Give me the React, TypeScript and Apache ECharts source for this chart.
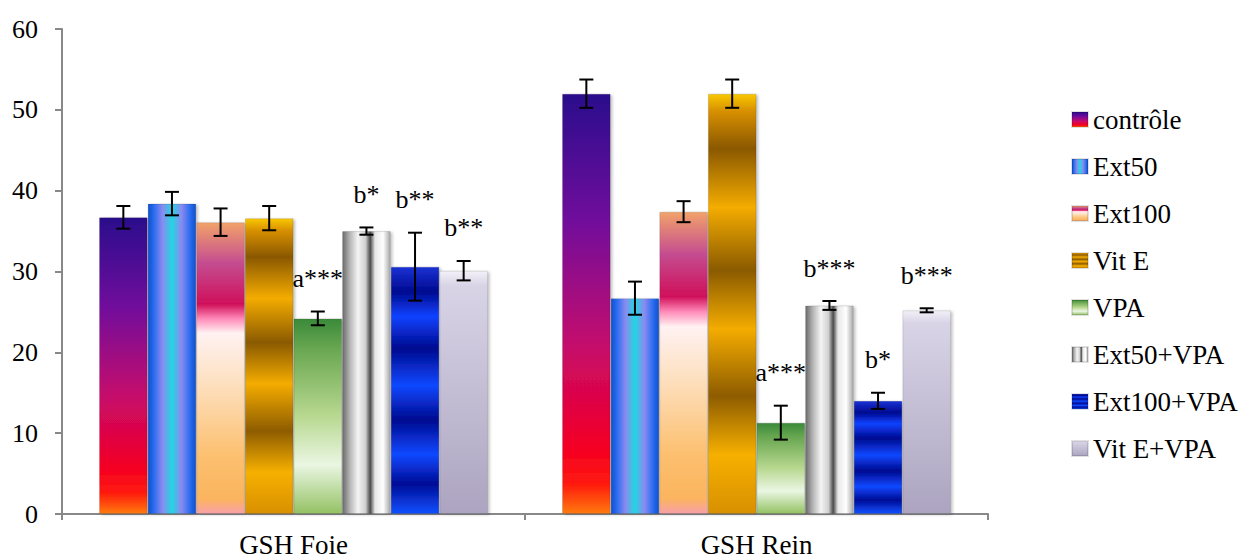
import React, { useEffect, useRef } from "react";
import * as echarts from "echarts";

const categories = ["GSH Foie", "GSH Rein"];
const seriesNames = ["contrôle", "Ext50", "Ext100", "Vit E", "VPA", "Ext50+VPA", "Ext100+VPA", "Vit E+VPA"];
const foieMeans = [36.7, 38.4, 36.1, 36.6, 24.2, 35.0, 30.6, 30.1];
const foieErrors = [1.4, 1.45, 1.7, 1.5, 0.85, 0.45, 4.2, 1.2];
const reinMeans = [52.0, 26.7, 37.4, 52.0, 11.3, 25.8, 14.0, 25.2];
const reinErrors = [1.75, 2.05, 1.3, 1.75, 2.1, 0.55, 1.0, 0.25];
const foieLabels = ["", "", "", "", "a***", "b*", "b**", "b**"];
const reinLabels = ["", "", "", "", "a***", "b***", "b*", "b***"];
const yMin = 0;
const yMax = 60;
const yInterval = 10;

const FONT = "Liberation Serif";
const GAP = 0.16;

function grad(vertical: boolean, stops: [number, string][]) {
  return {
    type: "linear",
    x: 0,
    y: 0,
    x2: vertical ? 0 : 1,
    y2: vertical ? 1 : 0,
    colorStops: stops.map(([offset, color]) => ({ offset, color })),
  };
}

const fills = [
  grad(true, [[0, "#2a0a8c"], [0.3, "#700a9c"], [0.6, "#c50a6c"], [0.85, "#f50022"], [0.93, "#ff1a10"], [1, "#ff7a10"]]),
  grad(false, [[0, "#0f50cc"], [0.12, "#2a6cf0"], [0.3, "#8a8af0"], [0.5, "#22d6e2"], [0.7, "#8a8af0"], [0.88, "#2a6cf0"], [1, "#0f50cc"]]),
  grad(true, [[0, "#f2a26a"], [0.14, "#c44c90"], [0.28, "#d0105a"], [0.33, "#ff8ab8"], [0.38, "#fff2f2"], [0.55, "#fde0c0"], [0.8, "#fcc070"], [0.95, "#fbb45e"], [1, "#f8a0a8"]]),
  grad(true, [[0, "#f8c800"], [0.04, "#d89000"], [0.13, "#8a5800"], [0.27, "#f4ac00"], [0.42, "#8a5a00"], [0.56, "#f4ac00"], [0.72, "#8e5c00"], [0.86, "#f6b000"], [1, "#d89000"]]),
  grad(true, [[0, "#3a8a3a"], [0.15, "#68a650"], [0.5, "#b8d890"], [0.75, "#eaf6e2"], [1, "#94c264"]]),
  grad(false, [[0, "#6a6a6a"], [0.15, "#b4b4b4"], [0.32, "#f4f4f4"], [0.48, "#d0d0d0"], [0.58, "#4a4a4a"], [0.68, "#e8e8e8"], [0.85, "#ffffff"], [1, "#a8a8a8"]]),
  grad(true, [[0, "#1a32d4"], [0.1, "#000a90"], [0.2, "#1042ff"], [0.33, "#000a90"], [0.48, "#1048ff"], [0.62, "#000a90"], [0.76, "#1048ff"], [0.88, "#000c96"], [1, "#1050ff"]]),
  grad(true, [[0, "#f2f0f8"], [0.06, "#d8d4e6"], [1, "#aca4c0"]]),
];

export default function App() {
  const ref = useRef<HTMLDivElement>(null);
  useEffect(() => {
    if (!ref.current) return;
    const chart = echarts.init(ref.current, undefined, { renderer: "svg" });

    const barSeries = seriesNames.map((name, i) => ({
      name,
      type: "bar",
      data: [foieMeans[i], reinMeans[i]],
      barGap: "0%",
      barCategoryGap: GAP * 100 + "%",
      itemStyle: {
        color: fills[i],
        borderColor: "rgba(0,0,0,0.12)",
        borderWidth: 1,
        shadowColor: "rgba(0,0,0,0.25)",
        shadowBlur: 3,
        shadowOffsetX: 2,
        shadowOffsetY: 1,
      },
      z: 2,
    }));

    const errData: number[][] = [];
    const errLabels: string[] = [];
    seriesNames.forEach((_, i) => {
      errData.push([0, i, foieMeans[i], foieErrors[i]]);
      errLabels.push(foieLabels[i]);
      errData.push([1, i, reinMeans[i], reinErrors[i]]);
      errLabels.push(reinLabels[i]);
    });

    const errSeries = {
      type: "custom",
      name: "err",
      data: errData,
      z: 10,
      encode: { x: 0, y: 2 },
      renderItem: (params: any, api: any) => {
        const cat = api.value(0);
        const si = api.value(1);
        const mean = api.value(2);
        const err = api.value(3);
        const center = api.coord([cat, 0]);
        const catW = api.size([1, 0])[0];
        const bw = (catW * (1 - GAP)) / seriesNames.length;
        const x = center[0] + (si - (seriesNames.length - 1) / 2) * bw;
        const yTop = api.coord([cat, mean + err])[1];
        const yBot = api.coord([cat, mean - err])[1];
        const cap = 7;
        const ls = { stroke: "#000", lineWidth: 2 };
        const children: any[] = [
          { type: "line", shape: { x1: x, y1: yTop, x2: x, y2: yBot }, style: ls },
          { type: "line", shape: { x1: x - cap, y1: yTop, x2: x + cap, y2: yTop }, style: ls },
          { type: "line", shape: { x1: x - cap, y1: yBot, x2: x + cap, y2: yBot }, style: ls },
        ];
        const lab = errLabels[params.dataIndex];
        if (lab) {
          children.push({
            type: "text",
            x,
            y: yTop - 20,
            style: {
              text: lab,
              fill: "#000",
              fontSize: 26,
              fontFamily: FONT,
              align: "center",
              verticalAlign: "bottom",
            },
          });
        }
        return { type: "group", children };
      },
    };

    chart.setOption({
      animation: false,
      backgroundColor: "#ffffff",
      grid: { left: 62, right: 258, top: 29, bottom: 43, containLabel: false },
      legend: {
        data: seriesNames,
        orient: "vertical",
        left: 1071,
        top: 106,
        padding: 0,
        itemWidth: 16,
        itemHeight: 15,
        itemGap: 20,
        icon: "rect",
        textStyle: { fontFamily: FONT, fontSize: 27, color: "#000", lineHeight: 26 },
      },
      xAxis: {
        type: "category",
        data: categories,
        axisLine: { lineStyle: { color: "#888", width: 2 } },
        axisTick: { show: true, length: 6, lineStyle: { color: "#888", width: 2 } },
        axisLabel: { fontFamily: FONT, fontSize: 27, color: "#000", margin: 17 },
      },
      yAxis: {
        type: "value",
        min: yMin,
        max: yMax,
        interval: yInterval,
        splitLine: { show: false },
        axisLine: { show: true, lineStyle: { color: "#888", width: 2 } },
        axisTick: { show: true, length: 7, lineStyle: { color: "#888", width: 2 } },
        axisLabel: { fontFamily: FONT, fontSize: 26, color: "#000", margin: 24 },
      },
      series: [...barSeries, errSeries],
    });
    return () => chart.dispose();
  }, []);
  return (
    <div
      ref={ref}
      style={{ position: "fixed", left: 0, top: 0, width: 1246, height: 558, background: "#fff" }}
    />
  );
}
